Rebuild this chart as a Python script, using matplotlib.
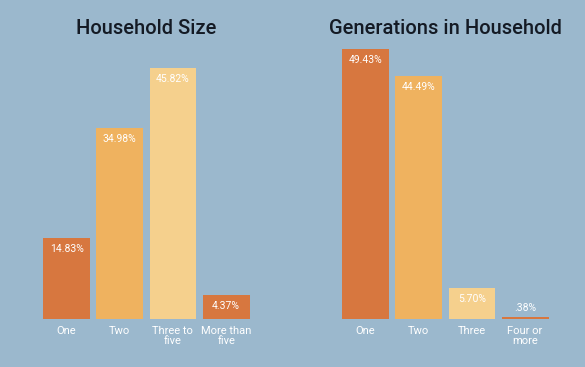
import matplotlib.pyplot as plt

size_labels = ['One', 'Two', 'Three to\nfive', 'More than\nfive']
size_values = [14.83, 34.98, 45.82, 4.37]
size_text = ['14.83%', '34.98%', '45.82%', '4.37%']

gen_labels = ['One', 'Two', 'Three', 'Four or\nmore']
gen_values = [49.43, 44.49, 5.70, 0.38]
gen_text = ['49.43%', '44.49%', '5.70%', '.38%']

bg = '#9bb8cd'
dark = '#d7773f'
mid = '#efb25f'
light = '#f5d08d'
colors = [dark, mid, light, dark]

W, H = 585, 367
fig = plt.figure(figsize=(W / 100, H / 100), dpi=100, facecolor=bg)

# axes rectangles in pixels: left, right edge of x range; baseline/top of y
ax1 = fig.add_axes([40 / W, 48 / H, 212.7 / W, 273.5 / H])
ax2 = fig.add_axes([339 / W, 48 / H, 212.7 / W, 273.5 / H])

def draw(ax, labels, values, text, title, title_x):
    ax.set_facecolor(bg)
    x = range(len(values))
    ax.bar(x, values, width=0.88, color=colors)
    ax.set_xlim(-0.5, 3.5)
    ax.set_ylim(0, 50)
    for i, v in enumerate(values):
        off = -11 if v > 3 else 9
        ax.annotate(text[i], (i, v), xytext=(0, off), textcoords='offset pixels',
                    ha='center', va='center', color='white', fontsize=7.5,
                    fontfamily='Roboto', fontstretch='condensed')
        ax.annotate(labels[i], (i, 0), xytext=(0, -7), textcoords='offset pixels',
                    ha='center', va='top', color='white', fontsize=8,
                    linespacing=1.0, fontfamily='Roboto')
    for s in ax.spines.values():
        s.set_visible(False)
    ax.set_xticks([])
    ax.set_yticks([])
    fig.text(title_x / W, 1 - 28 / H, title, ha='center', va='center',
             fontsize=14.5, color='#141a24', fontfamily='Roboto',
             fontweight='medium')

draw(ax1, size_labels, size_values, size_text, 'Household Size', 146)
draw(ax2, gen_labels, gen_values, gen_text, 'Generations in Household', 445)

plt.savefig('out.png', dpi=100, facecolor=bg)
